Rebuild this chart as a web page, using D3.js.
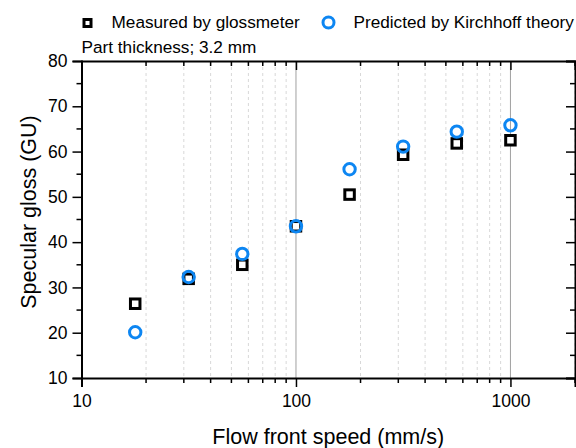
<!DOCTYPE html>
<html><head><meta charset="utf-8">
<script src="https://cdn.jsdelivr.net/npm/d3@7"></script>
<style>body{margin:0;background:#fff}svg{display:block;font-family:"Liberation Sans",Arial,sans-serif}</style>
</head><body>
<svg id="c" width="576" height="448"></svg>
<script>
const speeds = [17.8, 31.6, 56.2, 100, 177.8, 316, 562, 1000];
const measured = [26.4, 31.9, 35.0, 43.5, 50.5, 59.3, 61.8, 62.5];
const predicted = [20.1, 32.3, 37.4, 43.5, 56.1, 61.1, 64.4, 65.8];
const xTicks = [10, 100, 1000];
const yTicks = [10, 20, 30, 40, 50, 60, 70, 80];
const seriesNames = ["Measured by glossmeter", "Predicted by Kirchhoff theory"];

const svg = d3.select("#c");
const pL = 81.5, pR = 575, pT = 61, pB = 378;
const x = d3.scaleLog().domain([10, 2000]).range([pL, pR]);
const y = d3.scaleLinear().domain([10, 80]).range([pB, pT]);

const minorX = [];
for (let d = 10; d < 2000; d *= 10) for (let k = 2; k <= 9; k++) if (d * k <= 2000) minorX.push(d * k);
const minorY = d3.range(15, 80, 10);

// grid
const gridG = svg.append("g");
gridG.selectAll(".mg").data(minorX).join("line").attr("class", "mg")
  .attr("x1", d => x(d)).attr("x2", d => x(d)).attr("y1", pT).attr("y2", pB)
  .attr("stroke", "#d8d8d8").attr("stroke-width", 1).attr("stroke-dasharray", "3,3");
gridG.selectAll(".Mg").data(xTicks.filter(d => d > 10)).join("line").attr("class", "Mg")
  .attr("x1", d => x(d)).attr("x2", d => x(d)).attr("y1", pT).attr("y2", pB)
  .attr("stroke", "#a0a0a0").attr("stroke-width", 1);

// axes
const axBottom = d3.axisBottom(x).tickValues(xTicks).tickFormat(d3.format("d")).tickSize(9).tickPadding(8);
const bAx = svg.append("g").attr("transform", `translate(0,${pB})`).call(axBottom);
bAx.selectAll(".minor").data(minorX).join("line").attr("class", "minor")
  .attr("x1", d => x(d)).attr("x2", d => x(d)).attr("y1", 0).attr("y2", 5).attr("stroke", "#000").attr("stroke-width", 1.5);
const axTop = d3.axisTop(x).tickValues(xTicks).tickFormat("").tickSize(-9);
const tAx = svg.append("g").attr("transform", `translate(0,${pT})`).call(axTop);
tAx.selectAll(".minor").data(minorX).join("line").attr("class", "minor")
  .attr("x1", d => x(d)).attr("x2", d => x(d)).attr("y1", 0).attr("y2", 5).attr("stroke", "#000").attr("stroke-width", 1.5);

const axLeft = d3.axisLeft(y).tickValues(yTicks).tickSize(9).tickPadding(5);
const lAx = svg.append("g").attr("transform", `translate(${pL},0)`).call(axLeft);
lAx.selectAll(".minor").data(minorY).join("line").attr("class", "minor")
  .attr("x1", 0).attr("x2", -5).attr("y1", d => y(d)).attr("y2", d => y(d)).attr("stroke", "#000").attr("stroke-width", 1.5);
const axRight = d3.axisRight(y).tickValues(yTicks).tickFormat("").tickSize(-9);
const rAx = svg.append("g").attr("transform", `translate(${pR},0)`).call(axRight);
rAx.selectAll(".minor").data(minorY).join("line").attr("class", "minor")
  .attr("x1", 0).attr("x2", -5).attr("y1", d => y(d)).attr("y2", d => y(d)).attr("stroke", "#000").attr("stroke-width", 1.5);

[bAx, tAx, lAx, rAx].forEach(a => {
  a.select(".domain").attr("stroke", "#000").attr("stroke-width", 2);
  a.selectAll(".tick line").attr("stroke", "#000").attr("stroke-width", 1.5);
  a.selectAll("text").attr("font-size", 17.5).attr("fill", "#000").attr("font-family", "Liberation Sans, Arial, sans-serif");
});

// markers
const sq = 9.5;
svg.append("g").selectAll("rect").data(speeds.map((s, i) => [s, measured[i]])).join("rect")
  .attr("x", d => x(d[0]) - sq / 2).attr("y", d => y(d[1]) - sq / 2)
  .attr("width", sq).attr("height", sq)
  .attr("fill", "#fff").attr("stroke", "#000").attr("stroke-width", 3);
const blue = "#0d86f2";
svg.append("g").selectAll("circle").data(speeds.map((s, i) => [s, predicted[i]])).join("circle")
  .attr("cx", d => x(d[0])).attr("cy", d => y(d[1])).attr("r", 5.7)
  .attr("fill", "none").attr("stroke", blue).attr("stroke-width", 3);

// legend
svg.append("rect").attr("x", 84).attr("y", 19.5).attr("width", 7).attr("height", 7)
  .attr("fill", "#fff").attr("stroke", "#000").attr("stroke-width", 3);
svg.append("text").attr("x", 111.5).attr("y", 27.5).attr("font-size", 17.2).text(seriesNames[0]);
svg.append("circle").attr("cx", 328.5).attr("cy", 22.5).attr("r", 5.5)
  .attr("fill", "none").attr("stroke", blue).attr("stroke-width", 3);
svg.append("text").attr("x", 353.5).attr("y", 27.5).attr("font-size", 17.2).text(seriesNames[1]);
svg.append("text").attr("x", 81.5).attr("y", 53).attr("font-size", 17.2).text("Part thickness; 3.2 mm");

// titles
svg.append("text").attr("x", (pL + pR) / 2).attr("y", 443.5).attr("text-anchor", "middle")
  .attr("font-size", 21.5).text("Flow front speed (mm/s)");
svg.append("text").attr("transform", "translate(36,212) rotate(-90)").attr("text-anchor", "middle")
  .attr("font-size", 21.5).text("Specular gloss (GU)");
</script>
</body></html>
